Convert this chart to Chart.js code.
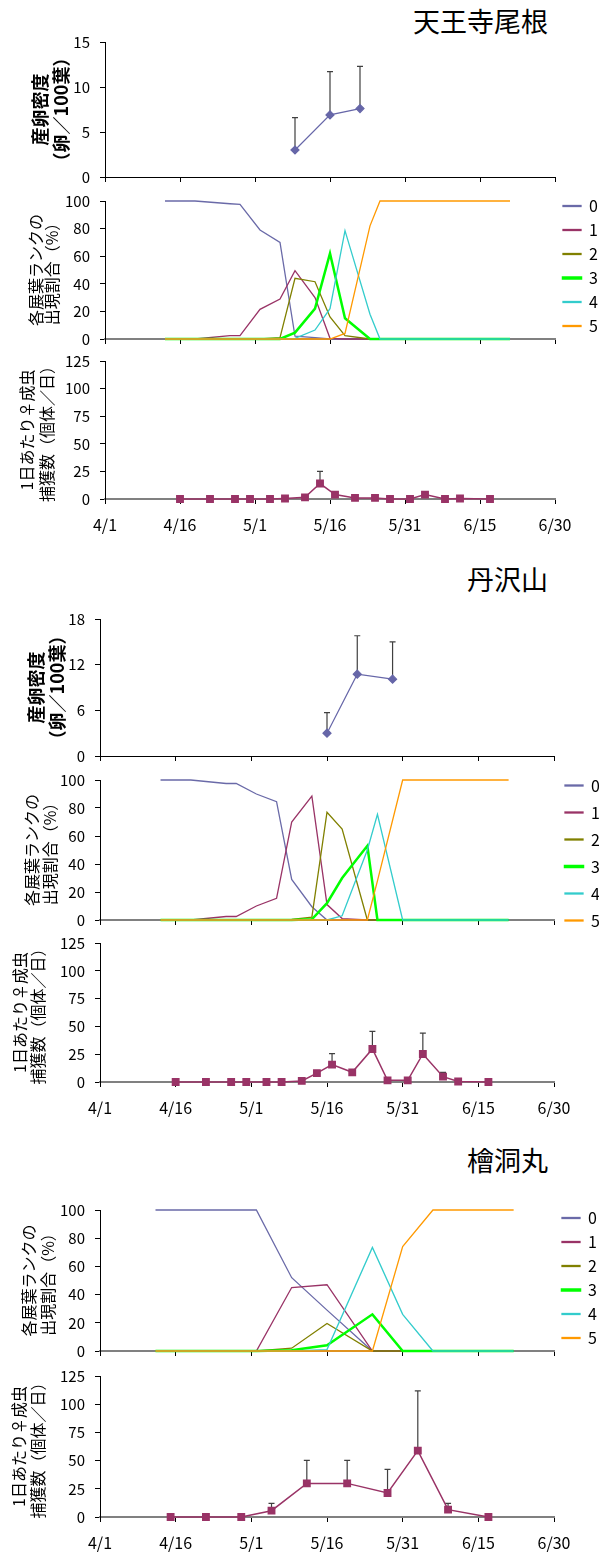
<!DOCTYPE html>
<html lang="ja">
<head>
<meta charset="utf-8">
<script src="https://cdn.jsdelivr.net/npm/chart.js@4.4.1/dist/chart.umd.min.js"></script>
<style>
    html, body { margin: 0; padding: 0; background: #fff; overflow: hidden; }
    body { position: relative; width: 599px; height: 1556px; font-family: "Noto Sans CJK JP", sans-serif; }
    .site { position: absolute; right: 51px; font-size: 27px; line-height: 27px; color: #000; }
    canvas { position: absolute; left: 0; }
</style>
</head>
<body>
<div class="site" style="top: 7px">天王寺尾根</div>
<div class="site" style="top: 565px">丹沢山</div>
<div class="site" style="top: 1146px">檜洞丸</div>
<script>
const tickLabels = ["4/1", "4/16", "5/1", "5/16", "5/31", "6/15", "6/30"]
const rankLabels = ["0", "1", "2", "3", "4", "5"]
const rankColors = ["#6a6aa8", "#993366", "#808000", "#00ff00", "#33cccc", "#ff9900"]

// 天王寺尾根
const tennojiEggDates = ["5/9", "5/16", "5/22"]
const tennojiEgg = [3.0, 6.9, 7.6]
const tennojiEggErr = [3.6, 4.8, 4.7]
const tennojiLeafDates = ["4/13", "4/19", "4/26", "4/28", "5/2", "5/6", "5/9", "5/13", "5/16", "5/19", "5/24", "5/26", "6/21"]
const tennojiRanks = [
    [100, 100, 98, 97.5, 79, 70, 2, 1, 0, 0, 0, 0, 0],
    [0, 0, 2.4, 2.4, 21.5, 29, 49.5, 30, 0.5, 0, 0, 0, 0],
    [0, 0, 0, 0, 0, 1, 44, 41.5, 16, 2.4, 0, 0, 0],
    [0, 0, 0, 0, 0, 0, 4.6, 22, 62, 15, 0, 0, 0],
    [0, 0, 0, 0, 0, 0, 0.5, 6.5, 22, 78.5, 18, 0, 0],
    [0, 0, 0, 0, 0, 0, 0, 0, 0, 4, 82, 100, 100],
]
const trapDates = ["4/16", "4/22", "4/27", "4/30", "5/4", "5/7", "5/11", "5/14", "5/17", "5/21", "5/25", "5/28", "6/1", "6/4", "6/8", "6/11", "6/17"]
const tennojiTrap = [0, 0, 0, 0, 0, 0.5, 1.5, 14, 4, 1, 1, 0, 0, 4, 0, 0.5, 0]
const tennojiTrapErr = [0, 0, 0, 0, 0, 0, 0, 11, 2.3, 0, 0, 0, 0, 2, 0, 0, 0]

// 丹沢山
const tanzawaEggDates = ["5/16", "5/22", "5/29"]
const tanzawaEgg = [3.0, 10.75, 10.1]
const tanzawaEggErr = [2.7, 5.05, 4.9]
const tanzawaLeafDates = ["4/13", "4/19", "4/26", "4/28", "5/2", "5/6", "5/9", "5/13", "5/16", "5/19", "5/24", "5/26", "5/31", "6/21"]
const tanzawaRanks = [
    [100, 100, 97.5, 97.5, 90, 84.5, 29, 9.5, 0, 0, 0, 0, 0, 0],
    [0, 0, 2.5, 2.5, 10, 15.5, 70, 88.5, 11, 1, 0, 0, 0, 0],
    [0, 0, 0, 0, 0, 0, 0.5, 2, 77, 65, 0, 0, 0, 0],
    [0, 0, 0, 0, 0, 0, 0, 0.5, 12, 30, 53, 0, 0, 0],
    [0, 0, 0, 0, 0, 0, 0, 0, 0, 3, 50, 75.5, 0, 0],
    [0, 0, 0, 0, 0, 0, 0, 0, 0, 0, 0, 28, 100, 100],
]
const tanzawaTrap = [0, 0, 0, 0, 0, 0, 1, 8, 15.6, 8.7, 29.7, 1.5, 1.5, 25.2, 4.8, 0.5, 0]
const tanzawaTrapErr = [0, 0, 0, 0, 0, 0, 0, 2.1, 9.9, 0, 15.9, 0, 0, 18.8, 3.9, 0, 0]

// 檜洞丸
const hinokiLeafDates = ["4/12", "5/2", "5/9", "5/16", "5/25", "5/31", "6/6", "6/22"]
const hinokiRanks = [
    [100, 100, 52, 29, 0, 0, 0, 0],
    [0, 0, 45, 47, 0, 0, 0, 0],
    [0, 0, 2, 19.5, 0, 0, 0, 0],
    [0, 0, 0.5, 4, 26, 0, 0, 0],
    [0, 0, 0, 1, 73.5, 26, 0, 0],
    [0, 0, 0, 0, 0, 74, 100, 100],
]
const hinokiTrapDates = ["4/15", "4/22", "4/29", "5/5", "5/12", "5/20", "5/28", "6/3", "6/9", "6/17"]
const hinokiTrap = [0, 0, 0, 5.6, 29.8, 29.8, 21.3, 58.8, 6.5, 0]
const hinokiTrapErr = [0, 0, 0, 6.5, 20.4, 20.4, 21, 53, 5.6, 0]

const family = "'Noto Sans CJK JP', 'Noto Sans', sans-serif"

// days counted from 4/1
const dayOf = (label) => {
    const [m, d] = label.split("/").map(Number)
    return [0, 0, 0, 0, 0, 30, 61][m] + d - 1
}

const toPoints = (dates, values) => dates.map((d, i) => ({ x: dayOf(d), y: values[i] }))

const errorBars = {
    id: "errorBars",
    beforeDatasetsDraw(chart) {
        const { ctx, scales: { x, y } } = chart
        chart.data.datasets.forEach((ds) => {
            if (!ds.errors) return
            ctx.save()
            ctx.strokeStyle = "#404040"
            ctx.lineWidth = 1.2
            ds.data.forEach((p, i) => {
                const err = ds.errors[i]
                if (!err) return
                const px = x.getPixelForValue(p.x)
                const y0 = y.getPixelForValue(p.y)
                const y1 = y.getPixelForValue(p.y + err)
                ctx.beginPath()
                ctx.moveTo(px, y0)
                ctx.lineTo(px, y1)
                ctx.moveTo(px - 3, y1)
                ctx.lineTo(px + 3, y1)
                ctx.stroke()
            })
            ctx.restore()
        })
    },
}

const eggSet = (dates, values, errors) => ({
    data: toPoints(dates, values),
    errors,
    borderColor: "#6666a8",
    backgroundColor: "#6666a8",
    borderWidth: 1.2,
    pointStyle: "rectRot",
    pointRadius: 4,
    clip: false,
})

const trapSet = (dates, values, errors) => ({
    data: toPoints(dates, values),
    errors,
    borderColor: "#993366",
    backgroundColor: "#993366",
    borderWidth: 1.5,
    pointStyle: "rect",
    pointRadius: 4.5,
    clip: false,
})

const rankSets = (dates, ranks) =>
    ranks.map((values, i) => ({
        label: rankLabels[i],
        data: toPoints(dates, values),
        borderColor: rankColors[i],
        backgroundColor: rankColors[i],
        borderWidth: i === 3 ? 2.5 : 1.3,
        pointRadius: 0,
        order: ranks.length - i,
        clip: false,
    }))

const buildChart = (frame, kind, datasets, yTitle, yAxis) => {
    const topGap = frame.topGap || 20
    const bottomGap = frame.bottomGap || (kind === "trap" ? 45 : 20)
    const canvas = document.createElement("canvas")
    canvas.width = 599
    canvas.height = topGap + frame.bottom - frame.top + bottomGap
    canvas.style.top = frame.top - topGap + "px"
    document.body.appendChild(canvas)

    const hasLegend = kind === "rank"
    const thinAxis = kind === "egg"
    const titleSize = yTitle.size || 16

    new Chart(canvas, {
        type: "line",
        data: { datasets },
        options: {
            responsive: false,
            animation: false,
            events: [],
            layout: {
                padding: { top: 0, right: hasLegend ? 0 : 599 - frame.right, bottom: 0, left: 0 },
            },
            plugins: {
                legend: {
                    display: hasLegend,
                    position: "right",
                    maxWidth: 599 - frame.right,
                    labels: {
                        boxWidth: 18,
                        boxHeight: 1,
                        padding: frame.legendGap || 8,
                        color: "#000",
                        font: { family, size: 16 },
                        sort: (a, b) => a.datasetIndex - b.datasetIndex,
                    },
                },
                tooltip: { enabled: false },
            },
            scales: {
                x: {
                    type: "linear",
                    min: 0,
                    max: 90,
                    afterFit: (s) => {
                        s.height = bottomGap
                    },
                    border: { color: thinAxis ? "#000" : "#808080", width: thinAxis ? 1 : 2 },
                    grid: { drawOnChartArea: false, tickLength: 5, color: "#000" },
                    ticks: {
                        stepSize: 15,
                        padding: 11,
                        maxRotation: 0,
                        autoSkip: false,
                        color: "#000",
                        font: { family, size: 16 },
                        callback: (v) => (kind === "trap" ? tickLabels[v / 15] : ""),
                    },
                },
                y: {
                    min: 0,
                    max: yAxis.max,
                    afterFit: (s) => {
                        s.width = frame.left
                        s.paddingTop = topGap
                        s.paddingBottom = bottomGap
                    },
                    border: { color: "#000", width: 1 },
                    grid: { drawOnChartArea: false, tickLength: 5, color: "#000" },
                    ticks: {
                        stepSize: yAxis.step,
                        padding: 10,
                        color: "#000",
                        font: { family, size: 15 },
                    },
                    title: {
                        display: true,
                        text: yTitle.lines,
                        color: "#000",
                        font: {
                            family,
                            size: titleSize,
                            weight: yTitle.bold ? "bold" : "normal",
                            lineHeight: yTitle.lh / titleSize,
                        },
                        padding: { top: yTitle.x - yTitle.lh / 2, bottom: 0 },
                    },
                },
            },
        },
        plugins: [errorBars],
    })
}

const eggTitle = ["産卵密度", "（卵／100葉）"]
const rankTitle = ["各展葉ランクの", "出現割合（%）"]
const trapTitle = ["1日あたり♀成虫", "捕獲数（個体／日）"]

buildChart({ top: 42, bottom: 177, left: 105, right: 555 }, "egg",
    [eggSet(tennojiEggDates, tennojiEgg, tennojiEggErr)],
    { lines: eggTitle, bold: true, size: 18, x: 40, lh: 21 }, { max: 15, step: 5 })
buildChart({ top: 201, bottom: 339, left: 105, right: 555, topGap: 28, bottomGap: 20, legendGap: 8 }, "rank",
    rankSets(tennojiLeafDates, tennojiRanks),
    { lines: rankTitle, x: 36, lh: 16 }, { max: 100, step: 20 })
buildChart({ top: 361, bottom: 499, left: 105, right: 555 }, "trap",
    [trapSet(trapDates, tennojiTrap, tennojiTrapErr)],
    { lines: trapTitle, x: 27, lh: 20 }, { max: 125, step: 25 })

buildChart({ top: 619, bottom: 756, left: 100, right: 554 }, "egg",
    [eggSet(tanzawaEggDates, tanzawaEgg, tanzawaEggErr)],
    { lines: eggTitle, bold: true, size: 18, x: 36, lh: 21 }, { max: 18, step: 6 })
buildChart({ top: 780, bottom: 920, left: 100, right: 554, topGap: 19, bottomGap: 25, legendGap: 11 }, "rank",
    rankSets(tanzawaLeafDates, tanzawaRanks),
    { lines: rankTitle, x: 32, lh: 18 }, { max: 100, step: 20 })
buildChart({ top: 943, bottom: 1082, left: 100, right: 554 }, "trap",
    [trapSet(trapDates, tanzawaTrap, tanzawaTrapErr)],
    { lines: trapTitle, x: 20, lh: 18 }, { max: 125, step: 25 })

buildChart({ top: 1210, bottom: 1351, left: 100, right: 554, topGap: 24, bottomGap: 19, legendGap: 8 }, "rank",
    rankSets(hinokiLeafDates, hinokiRanks),
    { lines: rankTitle, x: 29, lh: 19 }, { max: 100, step: 20 })
buildChart({ top: 1376, bottom: 1517, left: 100, right: 554 }, "trap",
    [trapSet(hinokiTrapDates, hinokiTrap, hinokiTrapErr)],
    { lines: trapTitle, x: 19, lh: 19 }, { max: 125, step: 25 })
</script>
</body>
</html>
